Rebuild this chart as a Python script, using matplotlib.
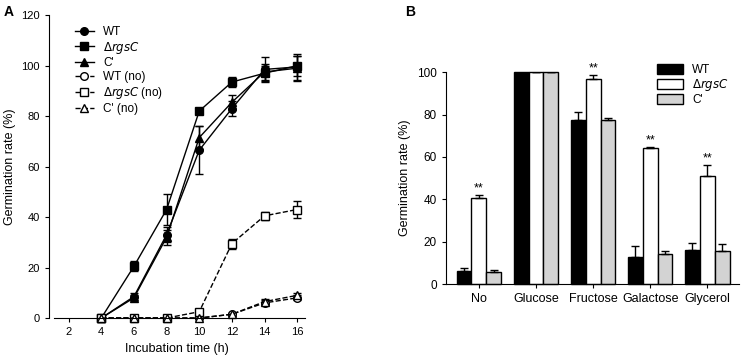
import numpy as np
import matplotlib
matplotlib.use("Agg")
import matplotlib.pyplot as plt
from matplotlib.lines import Line2D

plt.rcParams['font.family'] = ['Arial', 'Liberation Sans', 'DejaVu Sans']
plt.rcParams['font.size'] = 8

# panel A: germination time course
hours = [4, 6, 8, 10, 12, 14, 16]
wt = [0, 8.5, 33, 66.5, 83, 98.5, 99.5]
wt_err = [0, 1.5, 3, 9.5, 3, 5, 5]
rgsc = [0, 20.5, 43, 82, 93.5, 97, 100]
rgsc_err = [0, 2, 6, 0.5, 2, 3, 4]
comp = [0, 8, 32, 71.5, 85.5, 97.5, 99]
comp_err = [0, 1, 3, 4.5, 3, 3, 5]
wt_no = [0, 0, 0, 0, 1.5, 6, 8]
wt_no_err = [0, 0, 0, 0, 0.5, 1, 1]
rgsc_no = [0, 0, 0, 2.5, 29.5, 40.5, 43]
rgsc_no_err = [0, 0, 0, 1, 2, 1.5, 3.5]
comp_no = [0, 0, 0, 0, 1.5, 6.5, 9]
comp_no_err = [0, 0, 0, 0, 0.5, 1, 1]

# panel B: carbon sources
sources = ['No', 'Glucose', 'Fructose', 'Galactose', 'Glycerol']
b_wt = [6, 100, 77.5, 13, 16]
b_wt_err = [1.5, 0, 3.5, 5, 3.5]
b_rgsc = [40.5, 100, 97, 64, 51]
b_rgsc_err = [1.5, 0, 1.5, 0.5, 5]
b_comp = [5.5, 100, 77.5, 14, 15.5]
b_comp_err = [1, 0, 1, 1.5, 3.5]
stars = [True, False, True, True, True]

fig = plt.figure(figsize=(7.43, 3.61), dpi=100)

# ---- A ----
ax = fig.add_axes([0.066, 0.119, 0.345, 0.839])
series = [
    (wt, wt_err, 'o', 'k', '-', 'WT'),
    (rgsc, rgsc_err, 's', 'k', '-', r'$\Delta$$\it{rgsC}$'),
    (comp, comp_err, '^', 'k', '-', "C'"),
    (wt_no, wt_no_err, 'o', 'white', '--', 'WT (no)'),
    (rgsc_no, rgsc_no_err, 's', 'white', '--', r'$\Delta$$\it{rgsC}$ (no)'),
    (comp_no, comp_no_err, '^', 'white', '--', "C' (no)"),
]
handles = []
for y, e, m, fc, ls, lab in series:
    ax.errorbar(hours, y, yerr=e, marker=m, mfc=fc, mec='k', color='k',
                ls=ls, lw=1, ms=5.5, capsize=3, elinewidth=1, clip_on=False)
    handles.append(Line2D([], [], marker=m, mfc=fc, mec='k', color='k',
                          ls=ls, lw=1, ms=5.5, label=lab))
ax.set_xlim(0.8, 16.5)
ax.set_ylim(0, 120)
ax.set_xticks(range(2, 17, 2))
ax.set_yticks(range(0, 121, 20))
ax.spines['top'].set_visible(False)
ax.spines['right'].set_visible(False)
ax.spines['bottom'].set_bounds(1.1, 16.5)
ax.tick_params(direction='out', length=3, labelsize=8)
ax.set_xlabel('Incubation time (h)', fontsize=9)
ax.set_ylabel('Germination rate (%)', fontsize=9)
ax.legend(handles=handles, loc='upper left', bbox_to_anchor=(0.06, 1.0), frameon=False,
          fontsize=8.5, handlelength=1.6, labelspacing=0.15, handletextpad=0.8)
fig.text(0.005, 0.955, 'A', fontsize=10, fontweight='bold')

# ---- B ----
bx = fig.add_axes([0.600, 0.213, 0.395, 0.587])
x = np.arange(len(sources))
w = 0.26
kw = dict(edgecolor='k', linewidth=1, clip_on=False,
          error_kw=dict(elinewidth=1, capsize=3, capthick=1))
bx.bar(x - w, b_wt, w, yerr=[np.zeros(5), b_wt_err], color='black', label='WT', **kw)
bx.bar(x, b_rgsc, w, yerr=[np.zeros(5), b_rgsc_err], color='white',
       label=r'$\Delta$$\it{rgsC}$', **kw)
bx.bar(x + w, b_comp, w, yerr=[np.zeros(5), b_comp_err], color='#d3d3d3', label="C'", **kw)
for i, s in enumerate(stars):
    if s:
        bx.text(x[i], b_rgsc[i] + b_rgsc_err[i] + 0.5, '**', ha='center', va='bottom', fontsize=9)
bx.set_xlim(-0.58, 4.56)
bx.set_ylim(0, 100)
bx.set_xticks(x)
bx.set_xticklabels(sources, fontsize=9)
bx.set_yticks(range(0, 101, 20))
bx.spines['top'].set_visible(False)
bx.spines['right'].set_visible(False)
bx.tick_params(direction='out', length=3)
bx.tick_params(axis='y', labelsize=8.5)
bx.set_ylabel('Germination rate (%)', fontsize=9)
bx.legend(loc='upper right', bbox_to_anchor=(1.0, 1.09), frameon=False, fontsize=8.5,
          handlelength=2.2, handleheight=0.9, labelspacing=0.1)
fig.text(0.545, 0.955, 'B', fontsize=10, fontweight='bold')

fig.savefig('out.png', dpi=100)
